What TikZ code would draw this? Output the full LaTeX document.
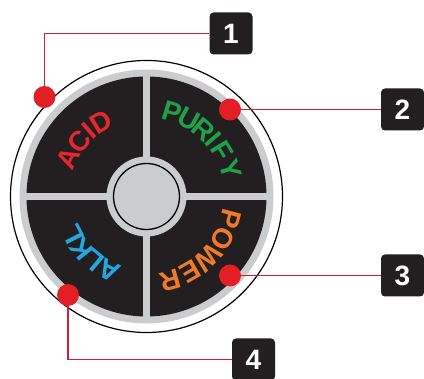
\documentclass[tikz,border=0pt]{standalone}
\usepackage{fontspec}
\setmainfont{Liberation Sans}
\usepackage{xcolor}
\usepackage{tikz}
\usetikzlibrary{calc}
\definecolor{discdark}{HTML}{231F20}
\definecolor{ringgray}{HTML}{CBCCCE}
\definecolor{dotred}{HTML}{E31E26}
\definecolor{leadred}{HTML}{C92234}
\definecolor{acidred}{HTML}{E5272E}
\definecolor{purgreen}{HTML}{1FA04B}
\definecolor{poworange}{HTML}{F07A2B}
\definecolor{alkblue}{HTML}{21A8E0}

\begin{document}
\begin{tikzpicture}[
        x=1pt, y=1pt,
        dot/.style={circle, fill=dotred, minimum size=22pt, inner sep=0pt},
        numbox/.style={fill=discdark, rounded corners=4pt, minimum width=43pt,
                       minimum height=42pt, inner sep=0pt, text=white,
                       font=\fontsize{28}{28}\selectfont\bfseries},
        lead/.style={leadred, line width=1.3pt},
        lbl/.style={inner sep=0pt, font=\fontsize{28}{28}\selectfont\bfseries},
        divider/.style={ringgray, line width=7pt}
      ]
      \useasboundingbox (0,0) rectangle (424,379);
      \coordinate (O) at (146.5,182.5);
      % knob body
      \draw[black, fill=white, line width=1.2pt] (O) circle (136);
      \fill[ringgray] (O) circle (127);
      \fill[discdark] (O) circle (120);
      \draw[divider] ($(O)+(-121,0)$) -- ($(O)+(121,0)$);
      \draw[divider] ($(O)+(0,-121)$) -- ($(O)+(0,121)$);
      \fill[ringgray] (O) circle (40);
      \draw[black, line width=1.3pt] (O) circle (33);
      % labels, tops outward
      \foreach \ch/\ang [count=\i] in {A/154, C/141, I/131, D/121}
        \node[lbl, acidred, rotate=\ang-90] (acid\i) at ($(O)+(\ang:87)$) {\ch};
      \foreach \ch/\ang [count=\i] in {P/73, U/61, R/49.5, I/40.5, F/31, Y/18}
        \node[lbl, purgreen, rotate=\ang-90] (pur\i) at ($(O)+(\ang:88)$) {\ch};
      \foreach \ch/\ang [count=\i] in {P/-15, O/-29, W/-44.5, E/-60, R/-74}
        \node[lbl, poworange, rotate=\ang-90] (pow\i) at ($(O)+(\ang:87)$) {\ch};
      \foreach \ch/\ang [count=\i] in {A/-117, L/-129.5, K/-141, L/-153}
        \node[lbl, alkblue, rotate=\ang-90] (alk\i) at ($(O)+(\ang:83)$) {\ch};
      % callouts
      \node[numbox] (b1) at (231,345.5) {1};
      \node[numbox] (b2) at (402.5,269.5) {2};
      \node[numbox] (b3) at (402.5,103.5) {3};
      \node[numbox] (b4) at (253.5,19.5) {4};
      \draw[lead] (44.5,282) |- (b1);
      \draw[lead] (230,269.5) -- (b2);
      \draw[lead] (230,103.5) -- (b3);
      \draw[lead] (68,84) |- (b4);
      \node[dot] (d1) at (44.5,282) {};
      \node[dot] (d2) at (230,269.5) {};
      \node[dot] (d3) at (230,103.5) {};
      \node[dot] (d4) at (68,84) {};
    \end{tikzpicture}
\end{document}
